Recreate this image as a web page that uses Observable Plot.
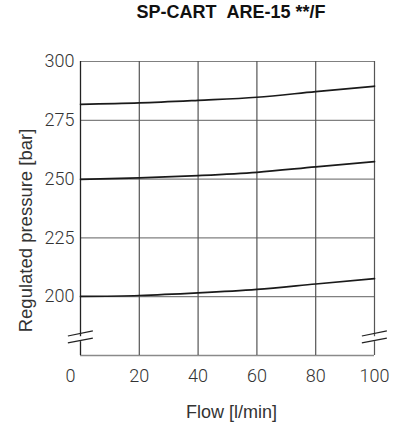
<!DOCTYPE html>
<html>
<head>
<meta charset="utf-8">
<script src="https://cdn.jsdelivr.net/npm/d3@7"></script>
<script src="https://cdn.jsdelivr.net/npm/@observablehq/plot@0.6"></script>
<style>
  html, body { margin: 0; padding: 0; background: #fff; }
  #title { height: 40px; box-sizing: border-box; padding-top: 2px; padding-left: 62px; line-height: 36px; text-align: center;
           font: bold 18px "Liberation Sans", Arial, sans-serif; color: #111; width: 400px; }
  #chart svg { display: block; }
</style>
</head>
<body>
<div id="title"></div>
<div id="chart"></div>
<script>
const titleText = "SP-CART\u00a0\u00a0ARE-15 **/F";
const xLabel = "Flow [l/min]";
const yLabel = "Regulated pressure [bar]";

const flow = [0, 20, 40, 60, 80, 100];
const p280 = [281.8, 282.4, 283.5, 284.8, 287.2, 289.5];
const p250 = [249.9, 250.5, 251.5, 252.9, 255.2, 257.4];
const p200 = [200.1, 200.5, 201.6, 203.1, 205.4, 207.7];

const xTicks = [0, 20, 40, 60, 80, 100];
const yTicks = [200, 225, 250, 275, 300];
const xDomain = [0, 100];
const yDomain = [175, 300];
const breakAt = 182;          // value where the axis break is drawn
const breakEdges = [0, 100];  // x positions of the break marks

document.getElementById("title").textContent = titleText;

const series = [p280, p250, p200].flatMap((vals, k) =>
  flow.map((f, i) => ({ s: k, x: f, y: vals[i] })));

const tickFont = "Roboto, 'Liberation Sans', sans-serif";
const labelFont = "'Liberation Sans', Arial, sans-serif";

const chart = Plot.plot({
  width: 400,
  height: 383,
  marginTop: 21,
  marginBottom: 68,
  marginLeft: 80,
  marginRight: 26,
  style: { fontFamily: tickFont, background: "#fff" },
  x: { domain: xDomain },
  y: { domain: yDomain },
  marks: [
    // horizontal grid
    Plot.ruleY(yTicks, { stroke: "#808080", strokeWidth: 1.2 }),
    // bottom frame
    Plot.ruleY([yDomain[0]], { stroke: "#8a8a8a", strokeWidth: 1.5 }),
    // vertical grid
    Plot.ruleX(xTicks.slice(1), { stroke: "#555", strokeWidth: 1.2 }),
    // left frame
    Plot.ruleX([xDomain[0]], { stroke: "#222", strokeWidth: 1.3 }),
    // axis break: white gap + two slanted strokes
    Plot.link(breakEdges, { x1: d => d, x2: d => d, y1: breakAt - 0.9, y2: breakAt + 1.2, stroke: "#fff", strokeWidth: 4 }),
    Plot.link(breakEdges, { x1: d => d - 4.3, x2: d => d + 4.2, y1: breakAt + 1.3, y2: breakAt + 3.5, stroke: "#222", strokeWidth: 1.2 }),
    Plot.link(breakEdges, { x1: d => d - 4.3, x2: d => d + 4.2, y1: breakAt - 1.6, y2: breakAt + 0.4, stroke: "#222", strokeWidth: 1.2 }),
    // curves
    Plot.line(series, { x: "x", y: "y", z: "s", stroke: "#1a1a1a", strokeWidth: 1.7, curve: "monotone-x" }),
    // axes
    Plot.axisY(yTicks, { tickSize: 0, tickPadding: 6, fontSize: 18, fontWeight: 300, fill: "#333", label: null }),
    Plot.axisX(xTicks.slice(1), { tickSize: 0, tickPadding: 14, fontSize: 18, fontWeight: 300, fill: "#333", label: null }),
    Plot.axisX([xTicks[0]], { tickSize: 0, tickPadding: 14, fontSize: 18, fontWeight: 300, fill: "#333", label: null, dx: -10 }),
    // axis titles
    Plot.text([xLabel], { frameAnchor: "bottom", lineAnchor: "bottom", dx: 4, dy: 62, fontSize: 18, fontFamily: labelFont, fill: "#333" }),
    Plot.text([yLabel], { frameAnchor: "left", textAnchor: "middle", rotate: -90, dx: -54, dy: 22, fontSize: 18.5, fontFamily: labelFont, fill: "#333" })
  ]
});
document.getElementById("chart").appendChild(chart);
</script>
</body>
</html>
